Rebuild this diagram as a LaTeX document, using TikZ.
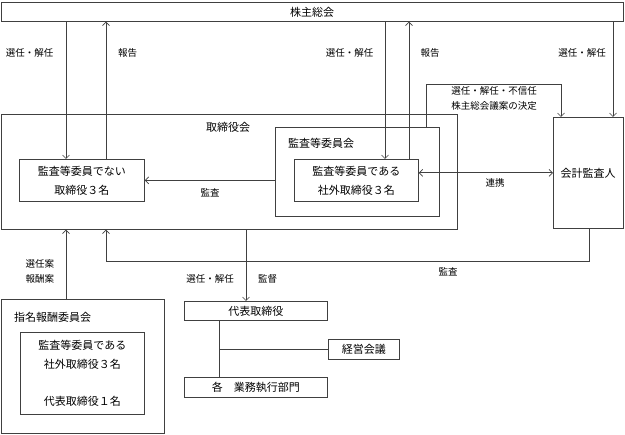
\documentclass[tikz,border=0pt]{standalone}
\usepackage{fontspec}
\newfontfamily\jpfont{Noto Sans CJK JP}
\usetikzlibrary{arrows.meta,positioning,calc}

\begin{document}
\begin{tikzpicture}[x=1pt,y=-1pt,
    >={Straight Barb[length=3.5pt,width=7pt]},
    every node/.style={font=\jpfont\fontsize{11}{19}\selectfont},
    box/.style={draw=black!75, line width=0.7pt, anchor=north west, inner sep=0pt, align=center},
    tag/.style={font=\jpfont\fontsize{9.5}{15}\selectfont, inner sep=0pt, align=center},
    conn/.style={draw=black!75, line width=0.7pt}]
    \useasboundingbox (0,0) rectangle (625,435);

    % General meeting
    \node[box, minimum width=621.5pt, minimum height=19pt] (gm) at (1,2) {株主総会};

    % Board
    \node[box, minimum width=456pt, minimum height=115pt] (board) at (1,114) {};
    \node (boardlbl) at (228,127) {取締役会};
    \node[box, minimum width=125pt, minimum height=42pt] (nonind) at (19,159) {監査等委員でない\\取締役３名};
    \node[box, minimum width=164pt, minimum height=89pt] (audcom) at (275,127) {};
    \node[anchor=west, inner sep=0pt] (audcomlbl) at (288,143) {監査等委員会};
    \node[box, minimum width=124pt, minimum height=42pt] (indep) at (294,159) {監査等委員である\\社外取締役３名};

    % Auditor
    \node[box, minimum width=69.5pt, minimum height=111pt] (auditor) at (553,117) {会計監査人};

    % Committee
    \node[box, minimum width=163pt, minimum height=134pt] (nomcom) at (1,299) {};
    \node[anchor=west, inner sep=0pt] (nomcomlbl) at (14,317) {指名報酬委員会};
    \node[box, minimum width=124pt, minimum height=82pt] (nominner) at (20,332) {監査等委員である\\社外取締役３名\\[18pt]代表取締役１名};

    % Executives
    \node[box, minimum width=143pt, minimum height=19pt] (ceo) at (184,301) {代表取締役};
    \node[box, minimum width=71pt, minimum height=20pt] (mgmt) at (328,339) {経営会議};
    \node[box, minimum width=143pt, minimum height=20pt] (depts) at (184,377) {各　業務執行部門};

    % Connectors
    \draw[conn,->] (gm.south -| 66,0) -- (nonind.north -| 66,0);
    \draw[conn,->] (nonind.north -| 106,0) -- (gm.south -| 106,0);
    \draw[conn,->] (gm.south -| 385,0) -- (indep.north -| 385,0);
    \draw[conn,->] (indep.north -| 409,0) -- (gm.south -| 409,0);
    \draw[conn,->] (audcom.north -| 426,0) -- (426,84) -| (auditor.north -| 561,0);
    \draw[conn,->] (gm.south -| 613,0) -- (auditor.north -| 613,0);
    \draw[conn,->] (audcom.west |- nonind.east) -- (nonind.east);
    \draw[conn,<->] (indep.east |- auditor.west) -- (auditor.west);
    \draw[conn,->] (auditor.south -| 589,0) |- (106,261) -- (board.south -| 106,0);
    \draw[conn,->] (nomcom.north -| 66,0) -- (board.south -| 66,0);
    \draw[conn,->] (board.south -| 246,0) -- (ceo.north -| 246,0);
    \draw[conn] (ceo.south -| 219,0) -- (depts.north -| 219,0);
    \draw[conn] (mgmt.west -| 219,0) -- (mgmt.west);

    % Labels
    \node[tag] (t1) at (29.5,53) {選任・解任};
    \node[tag] (t2) at (127.5,53) {報告};
    \node[tag] (t3) at (349.5,53) {選任・解任};
    \node[tag] (t4) at (430,53) {報告};
    \node[tag] (t5) at (582,53) {選任・解任};
    \node[tag] (t6) at (494,98.5) {選任・解任・不信任\\株主総会議案の決定};
    \node[tag] (t7) at (210,193) {監査};
    \node[tag] (t8) at (495,183) {連携};
    \node[tag] (t9) at (448,272) {監査};
    \node[tag] (t10) at (40,271.5) {選任案\\報酬案};
    \node[tag] (t11) at (210,279) {選任・解任};
    \node[tag] (t12) at (267.5,279) {監督};
\end{tikzpicture}
\end{document}
